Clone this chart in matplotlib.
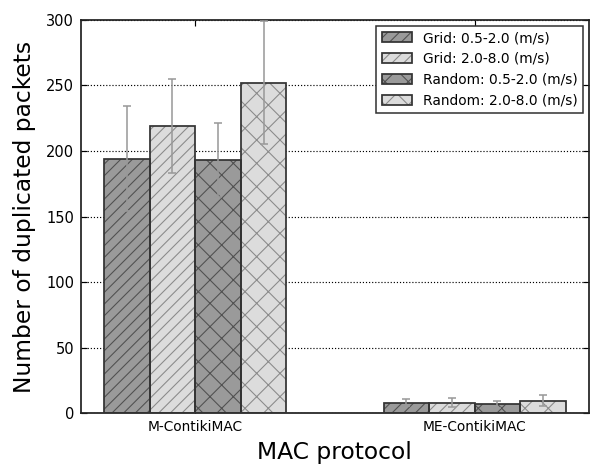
import numpy as np
import matplotlib
matplotlib.use("Agg")
import matplotlib.pyplot as plt
from matplotlib.legend_handler import HandlerTuple

protocols = ['M-ContikiMAC', 'ME-ContikiMAC']
series = ['Grid: 0.5-2.0 (m/s)', 'Grid: 2.0-8.0 (m/s)',
          'Random: 0.5-2.0 (m/s)', 'Random: 2.0-8.0 (m/s)']
grid_slow = [194, 8]
grid_fast = [219, 8]
rand_slow = [193, 6.5]
rand_fast = [252, 9.5]
grid_slow_err = [40, 3]
grid_fast_err = [36, 3.5]
rand_slow_err = [28, 3]
rand_fast_err = [47, 4]

values = [grid_slow, grid_fast, rand_slow, rand_fast]
errors = [grid_slow_err, grid_fast_err, rand_slow_err, rand_fast_err]
faces = ['#9a9a9a', '#dcdcdc', '#9a9a9a', '#dcdcdc']
hatchcols = ['#505050', '#8a8a8a', '#505050', '#8a8a8a']
hatches = ['////', '////', 'xx', 'xx']

dpi = 140
plt.rcParams['hatch.linewidth'] = 0.55
fig = plt.figure(figsize=(590 / dpi, 465 / dpi), dpi=dpi)
ax = fig.add_axes([0.1373, 0.1118, 0.8607, 0.8452])

ind = np.arange(len(protocols))
width = 0.163
handles = []
for i in range(4):
    pos = ind + (i - 1.5) * width
    # fill + hatch first, then a plain outline on top (different colours)
    h1 = ax.bar(pos, values[i], width, color=faces[i], edgecolor=hatchcols[i],
                hatch=hatches[i], linewidth=0, zorder=2)
    h2 = ax.bar(pos, values[i], width, color='none', edgecolor='#333333',
                linewidth=0.9, zorder=3)
    ax.errorbar(pos, values[i], yerr=errors[i], fmt='none', ecolor='#999999',
                elinewidth=0.8, capsize=2, capthick=0.8, zorder=4)
    handles.append((h1[0], h2[0]))

ax.set_ylim(0, 300)
ax.set_xticks(ind)
ax.set_xticklabels(protocols, fontsize=7.1)
ax.tick_params(axis='y', labelsize=7.5)
ax.tick_params(direction='in', top=True, right=True, length=3, width=0.6)
ax.yaxis.grid(True, linestyle=':', color='black', linewidth=0.6, zorder=0)
ax.set_axisbelow(True)
for s in ax.spines.values():
    s.set_linewidth(0.9)
    s.set_color('#222222')

ax.set_ylabel('Number of duplicated packets', fontsize=12, labelpad=5)
ax.set_xlabel('MAC protocol', fontsize=12, labelpad=3.5)

leg = ax.legend(handles, series, handler_map={tuple: HandlerTuple(ndivide=1, pad=0)},
                loc='upper right', fontsize=7.1, fancybox=False, framealpha=1,
                edgecolor='#333333', borderaxespad=0.4, handlelength=2.2)
leg.get_frame().set_linewidth(0.8)

fig.savefig('out.png', dpi=dpi)
